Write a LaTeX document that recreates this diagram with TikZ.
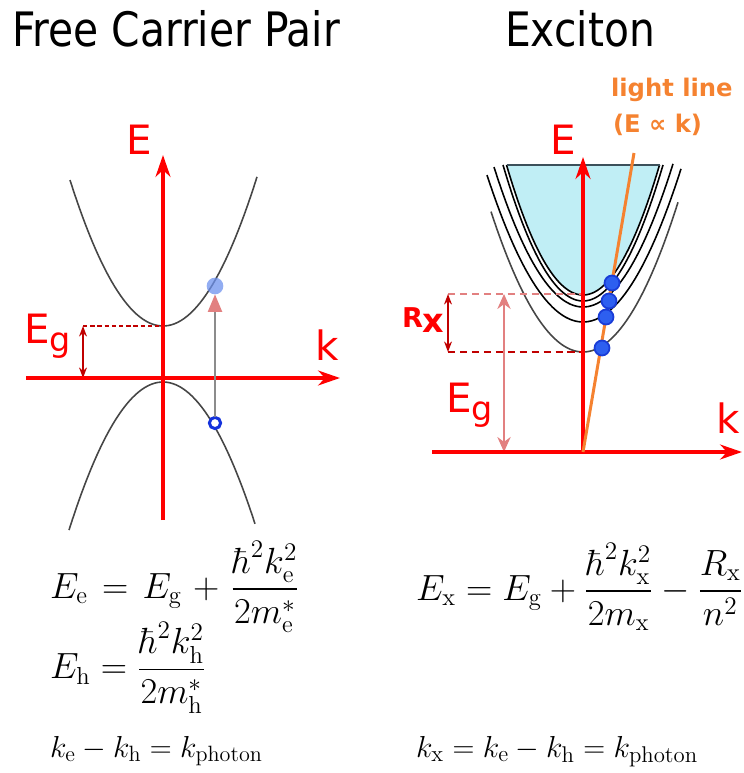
\documentclass[tikz,border=0pt]{standalone}
\usepackage{amsmath}
\usepackage{fontspec}
\newfontfamily\labelfont{DejaVu Sans}
\newfontfamily\titlefont[FakeStretch=0.86]{DejaVu Sans}
\usetikzlibrary{arrows.meta}

\definecolor{axisred}{RGB}{255,0,0}
\definecolor{darkred}{RGB}{192,0,0}
\definecolor{pinkred}{RGB}{226,128,128}
\definecolor{bandgray}{RGB}{70,70,70}
\definecolor{contcyan}{RGB}{192,238,245}
\definecolor{lightorange}{RGB}{245,130,48}
\definecolor{dotblue}{RGB}{45,95,240}
\definecolor{dotedge}{RGB}{25,60,215}

\newcommand\wideeqspace{\thickmuskip=7mu\relax\medmuskip=5.5mu\relax}

\tikzset{
  axis/.style={draw=axisred, line width=2.8pt, -{Stealth[length=12.5pt, width=8.5pt]}},
  band/.style={draw=bandgray, line width=0.9pt},
  level/.style={draw=black, line width=0.9pt},
  gapdash/.style={draw=darkred, line width=0.9pt, dash pattern=on 2.5pt off 1.6pt},
  gaparrow/.style={draw=darkred, line width=0.9pt, {Stealth[length=6pt, width=4.5pt]}-{Stealth[length=6pt, width=4.5pt]}},
  exdot/.style={circle, fill=dotblue, draw=dotedge, line width=1pt, minimum size=8.5pt},
  axlabel/.style={anchor=base, text=axisred, font=\labelfont\fontsize{23}{23}\selectfont},
  eqn/.style={anchor=west, font=\fontsize{20}{24}\selectfont},
  eqnk/.style={anchor=base west, font=\fontsize{18}{22}\selectfont}
}

\begin{document}
\begin{tikzpicture}[x=0.02cm, y=-0.02cm, every node/.style={inner sep=0pt, outer sep=0pt}]
  \useasboundingbox (0,0) rectangle (743,773);

  % titles
  \node[anchor=base, font=\titlefont\fontsize{27}{27}\selectfont] (ttlfree) at (176,47) {Free Carrier Pair};
  \node[anchor=base, font=\titlefont\fontsize{27}{27}\selectfont] (ttlexc) at (580,47) {Exciton};

  % ---- free carrier pair ----
  \coordinate (lo) at (163,378);
  \coordinate (lEbot) at (163,520);
  \coordinate (lEtop) at (163,155);
  \coordinate (lkleft) at (26,378);
  \coordinate (lkright) at (340,378);
  \draw[band] plot[domain=-93:94, samples=60] ({163+\x},{326-0.01688*\x*\x});
  \draw[band] plot[domain=-94:92, samples=60] ({163+\x},{382+0.01676*\x*\x});

  \coordinate (lgaptop) at (83,326);
  \coordinate (lgapbot) at (83,378);
  \coordinate (lgapaxis) at (163,326);
  \draw[gapdash] (lgaptop) -- (lgapaxis);
  \draw[gaparrow] (lgaptop) -- (lgapbot);

  \draw[axis] (lEbot) -- (lEtop);
  \draw[axis] (lkleft) -- (lkright);

  \node[circle, draw={rgb,255:red,20;green,50;blue,220}, line width=1.7pt, minimum size=6.4pt, fill=white] (hole) at (215,423) {};
  \node[circle, fill={rgb,255:red,110;green,145;blue,238}, fill opacity=0.75, minimum size=9.5pt] (elec) at (215,286) {};
  \draw[draw={rgb,255:red,140;green,140;blue,140}, line width=1.2pt, -{Triangle[length=10pt, width=8pt, color=pinkred]}] (hole) -- (elec);

  \node[axlabel] (lE) at (139,155) {E};
  \node[axlabel] (lk) at (327,360) {k};
  \node[anchor=base west, text=axisred, font=\labelfont\fontsize{23}{23}\selectfont] (lEg) at (24,343) {E\raisebox{-5pt}{\fontsize{19}{19}\selectfont g}};

  % ---- exciton ----
  \coordinate (ro) at (583,452);
  \coordinate (rEtop) at (583,157);
  \coordinate (rkleft) at (432,452);
  \coordinate (rkright) at (742,452);
  \coordinate (lltop) at (634,153);

  \fill[contcyan] plot[domain=-76.5:76.5, samples=60] ({583+\x},{295-0.02221*\x*\x}) -- cycle;
  \draw[level] plot[domain=-76.5:76.5, samples=60] ({583+\x},{295-0.02221*\x*\x});
  \draw[draw={rgb,255:red,60;green,80;blue,90}, line width=0.7pt] (507,165) -- (660,165);
  \draw[level] plot[domain=-80:80, samples=60] ({583+\x},{301-0.02125*\x*\x});
  \draw[level] plot[domain=-89:90, samples=60] ({583+\x},{307-0.01767*\x*\x});
  \draw[level] plot[domain=-96:98, samples=60] ({583+\x},{322-0.01594*\x*\x});
  \draw[band] plot[domain=-92:95, samples=60] ({583+\x},{352-0.01659*\x*\x});

  \coordinate (rxtop) at (448,294);
  \coordinate (rxbot) at (448,352);
  \coordinate (rxtopaxis) at (583,294);
  \coordinate (rxbotaxis) at (583,352);
  \coordinate (egtop) at (504,294);
  \coordinate (egbot) at (504,452);
  \draw[draw=pinkred, line width=1.1pt, dash pattern=on 4pt off 2.8pt] (rxtop) -- (rxtopaxis);
  \draw[draw=darkred, line width=1.1pt, dash pattern=on 4pt off 2.8pt] (rxbot) -- (rxbotaxis);
  \draw[gaparrow] (rxtop) -- (rxbot);
  \draw[draw=pinkred, line width=1.4pt, {Stealth[length=8.5pt, width=7.5pt]}-{Stealth[length=8.5pt, width=7.5pt]}] (egtop) -- (egbot);

  \draw[axis] (ro) -- (rEtop);
  \draw[axis] (rkleft) -- (rkright);
  \draw[draw=lightorange, line width=1.7pt] (ro) -- (lltop);

  \node[exdot] (dotfour) at (612,283) {};
  \node[exdot] (dotthree) at (609,301) {};
  \node[exdot] (dottwo) at (606,317) {};
  \node[exdot] (dotone) at (602,348) {};

  \node[axlabel] (rE) at (563,155) {E};
  \node[axlabel] (rk) at (728,433) {k};
  \node[anchor=base west, text=axisred, font=\labelfont\fontsize{23}{23}\selectfont] (rEg) at (446,412) {E\raisebox{-5pt}{\fontsize{19}{19}\selectfont g}};
  \node[anchor=base west, text=axisred, font=\labelfont\bfseries\fontsize{15.5}{16}\selectfont] (rRx) at (402,327) {R\raisebox{-3pt}{\fontsize{19}{19}\selectfont x}};

  \node[anchor=base west, text=lightorange, font=\labelfont\bfseries\fontsize{13.8}{14}\selectfont] (lltext) at (611,97) {light line};
  \node[anchor=base west, text=lightorange, font=\labelfont\bfseries\fontsize{13.8}{14}\selectfont] (llprop) at (613,133) {(E ∝ k)};

  % ---- equations ----
  \node[eqn, font=\fontsize{20}{24}\selectfont\wideeqspace] (eqEe) at (50,587) {$E_{\mathrm{e}} = E_{\mathrm{g}} + \dfrac{\hbar^2 k_{\mathrm{e}}^2}{2m_{\mathrm{e}}^*}$};
  \node[eqn] (eqEh) at (50,668) {$E_{\mathrm{h}} = \dfrac{\hbar^2 k_{\mathrm{h}}^2}{2m_{\mathrm{h}}^*}$};
  \node[eqnk] (eqkfree) at (50,757) {$k_{\mathrm{e}} - k_{\mathrm{h}} = k_{\mathrm{photon}}$};
  \node[eqn] (eqEx) at (416,587) {$E_{\mathrm{x}} = E_{\mathrm{g}} + \dfrac{\hbar^2 k_{\mathrm{x}}^2}{2m_{\mathrm{x}}} - \dfrac{R_{\mathrm{x}}}{n^2}$};
  \node[eqnk, font=\fontsize{18.5}{22}\selectfont] (eqkx) at (416,757) {$k_{\mathrm{x}} = k_{\mathrm{e}} - k_{\mathrm{h}} = k_{\mathrm{photon}}$};
\end{tikzpicture}
\end{document}
